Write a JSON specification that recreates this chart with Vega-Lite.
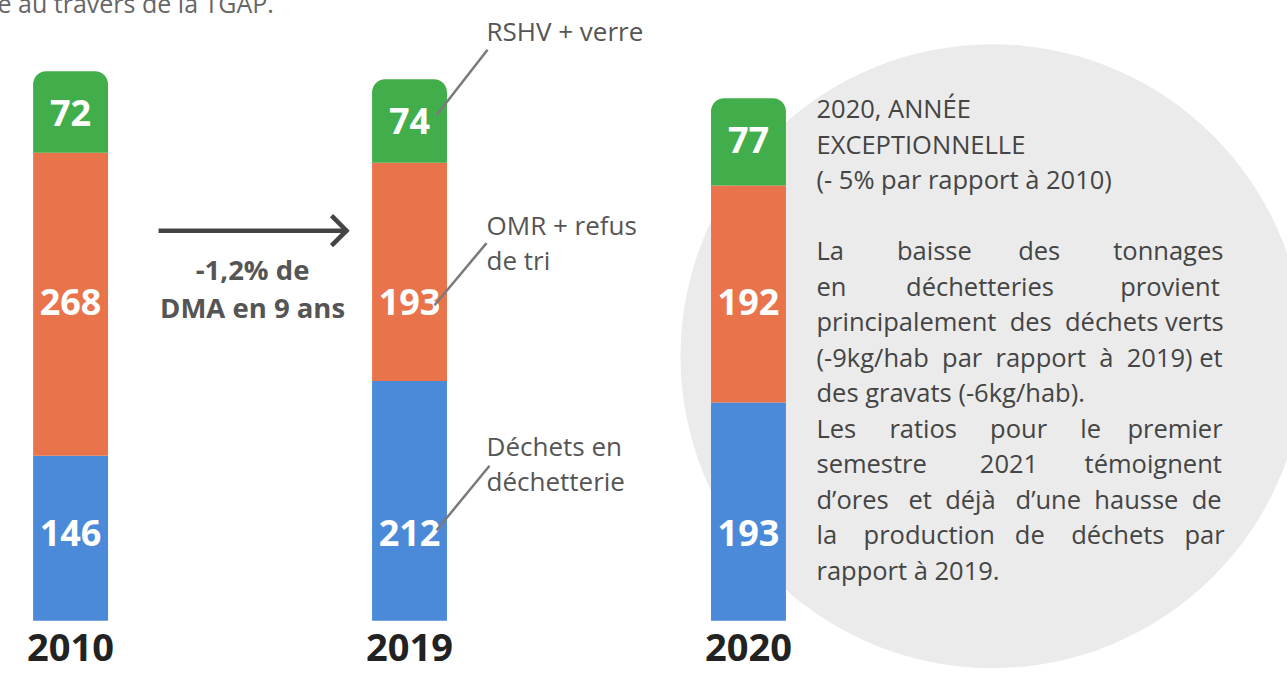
{
  "$schema": "https://vega.github.io/schema/vega-lite/v6.json",
  "width": 1287,
  "height": 675,
  "autosize": "none",
  "padding": 0,
  "background": "white",
  "config": {"view": {"stroke": null}, "axis": {"disable": true}, "font": "Open Sans"},
  "datasets": {
    "dma": [
      {"year": "2010", "type": "Déchets en déchetterie", "value": 146},
      {"year": "2010", "type": "OMR + refus de tri", "value": 268},
      {"year": "2010", "type": "RSHV + verre", "value": 72},
      {"year": "2019", "type": "Déchets en déchetterie", "value": 212},
      {"year": "2019", "type": "OMR + refus de tri", "value": 193},
      {"year": "2019", "type": "RSHV + verre", "value": 74},
      {"year": "2020", "type": "Déchets en déchetterie", "value": 193},
      {"year": "2020", "type": "OMR + refus de tri", "value": 192},
      {"year": "2020", "type": "RSHV + verre", "value": 77}
    ]
  },
  "layer": [
    {
      "data": {"values": [{}]},
      "mark": {"type": "point", "shape": "circle", "filled": true, "color": "#ebebeb", "opacity": 1, "size": 389400, "xOffset": 244},
      "encoding": {
        "x": {"datum": "2020", "type": "ordinal", "scale": {"domain": ["2010", "2019", "2020"], "paddingInner": 0.779, "paddingOuter": 0.788, "align": 0.062}},
        "y": {"datum": 234, "type": "quantitative", "scale": {"domain": [-48, 549], "nice": false, "zero": false}}
      }
    },
    {
      "data": {"name": "dma"},
      "transform": [
        {"stack": "value", "groupby": ["year"], "sort": [{"field": "type", "order": "ascending"}], "as": ["v0", "v1"]},
        {"filter": "datum.type !== 'RSHV + verre'"}
      ],
      "mark": {"type": "bar"},
      "encoding": {
        "x": {"field": "year", "type": "ordinal"},
        "y": {"field": "v1", "type": "quantitative"},
        "y2": {"field": "v0"},
        "color": {"field": "type", "type": "nominal", "legend": null, "scale": {"domain": ["Déchets en déchetterie", "OMR + refus de tri", "RSHV + verre"], "range": ["#4a8ad9", "#e9744b", "#41ae4b"]}}
      }
    },
    {
      "data": {"name": "dma"},
      "transform": [
        {"stack": "value", "groupby": ["year"], "sort": [{"field": "type", "order": "ascending"}], "as": ["v0", "v1"]},
        {"filter": "datum.type === 'RSHV + verre'"}
      ],
      "mark": {"type": "bar", "cornerRadiusTopLeft": 13, "cornerRadiusTopRight": 13},
      "encoding": {
        "x": {"field": "year", "type": "ordinal"},
        "y": {"field": "v1", "type": "quantitative"},
        "y2": {"field": "v0"},
        "color": {"field": "type", "type": "nominal", "legend": null}
      }
    },
    {
      "data": {"name": "dma"},
      "transform": [
        {"stack": "value", "groupby": ["year"], "sort": [{"field": "type", "order": "ascending"}], "as": ["v0", "v1"]},
        {"filter": "datum.type === 'RSHV + verre'"}
      ],
      "mark": {"type": "text", "color": "white", "fontWeight": "bold", "fontSize": 36, "baseline": "middle", "dy": 44},
      "encoding": {
        "x": {"field": "year", "type": "ordinal"},
        "y": {"field": "v1", "type": "quantitative"},
        "text": {"field": "value", "type": "quantitative"}
      }
    },
    {
      "data": {"name": "dma"},
      "transform": [{"filter": "datum.type === 'OMR + refus de tri'"}],
      "mark": {"type": "text", "color": "white", "fontWeight": "bold", "fontSize": 36, "baseline": "middle"},
      "encoding": {
        "x": {"field": "year", "type": "ordinal"},
        "y": {"datum": 280, "type": "quantitative"},
        "text": {"field": "value", "type": "quantitative"}
      }
    },
    {
      "data": {"name": "dma"},
      "transform": [{"filter": "datum.type === 'Déchets en déchetterie'"}],
      "mark": {"type": "text", "color": "white", "fontWeight": "bold", "fontSize": 36, "baseline": "middle"},
      "encoding": {
        "x": {"field": "year", "type": "ordinal"},
        "y": {"datum": 76, "type": "quantitative"},
        "text": {"field": "value", "type": "quantitative"}
      }
    },
    {
      "data": {"name": "dma"},
      "transform": [{"filter": "datum.type === 'RSHV + verre'"}],
      "mark": {"type": "text", "color": "#222222", "fontWeight": "bold", "fontSize": 38, "baseline": "middle"},
      "encoding": {
        "x": {"field": "year", "type": "ordinal"},
        "y": {"datum": -26, "type": "quantitative"},
        "text": {"field": "year", "type": "nominal"}
      }
    },
    {
      "data": {"values": [{}]},
      "mark": {"type": "rule", "color": "#7a7a7a", "strokeWidth": 2.5, "xOffset": 27, "x2Offset": 78},
      "encoding": {
        "x": {"datum": "2019", "type": "ordinal"},
        "x2": {"datum": "2019"},
        "y": {"datum": 447, "type": "quantitative"},
        "y2": {"datum": 505}
      }
    },
    {
      "data": {"values": [{}]},
      "mark": {"type": "rule", "color": "#7a7a7a", "strokeWidth": 2.5, "xOffset": 25, "x2Offset": 77},
      "encoding": {
        "x": {"datum": "2019", "type": "ordinal"},
        "x2": {"datum": "2019"},
        "y": {"datum": 279, "type": "quantitative"},
        "y2": {"datum": 334}
      }
    },
    {
      "data": {"values": [{}]},
      "mark": {"type": "rule", "color": "#7a7a7a", "strokeWidth": 2.5, "xOffset": 27, "x2Offset": 80},
      "encoding": {
        "x": {"datum": "2019", "type": "ordinal"},
        "x2": {"datum": "2019"},
        "y": {"datum": 80, "type": "quantitative"},
        "y2": {"datum": 137}
      }
    },
    {
      "data": {"values": [{}]},
      "mark": {"type": "text", "text": "RSHV + verre", "color": "#555555", "fontSize": 26, "align": "left", "baseline": "middle", "dx": 77},
      "encoding": {
        "x": {"datum": "2019", "type": "ordinal"},
        "y": {"datum": 520, "type": "quantitative"}
      }
    },
    {
      "data": {"values": [{}]},
      "mark": {"type": "text", "text": ["OMR + refus", "de tri"], "lineHeight": 35, "color": "#555555", "fontSize": 26, "align": "left", "baseline": "middle", "dx": 77},
      "encoding": {
        "x": {"datum": "2019", "type": "ordinal"},
        "y": {"datum": 348, "type": "quantitative"}
      }
    },
    {
      "data": {"values": [{}]},
      "mark": {"type": "text", "text": ["Déchets en", "déchetterie"], "lineHeight": 35, "color": "#555555", "fontSize": 26, "align": "left", "baseline": "middle", "dx": 77},
      "encoding": {
        "x": {"datum": "2019", "type": "ordinal"},
        "y": {"datum": 153, "type": "quantitative"}
      }
    },
    {
      "data": {"values": [{}]},
      "mark": {"type": "rule", "color": "#444444", "strokeWidth": 4.5, "xOffset": 88, "x2Offset": -62},
      "encoding": {
        "x": {"datum": "2010", "type": "ordinal"},
        "x2": {"datum": "2019"},
        "y": {"datum": 345, "type": "quantitative"}
      }
    },
    {
      "data": {"values": [{}]},
      "mark": {"type": "point", "shape": "M-1,-1L0,0L-1,1", "filled": false, "stroke": "#444444", "strokeWidth": 4.5, "opacity": 1, "size": 900, "xOffset": -63},
      "encoding": {
        "x": {"datum": "2019", "type": "ordinal"},
        "y": {"datum": 345, "type": "quantitative"}
      }
    },
    {
      "data": {"values": [{}]},
      "mark": {"type": "text", "text": ["-1,2% de", "DMA en 9 ans"], "lineHeight": 38, "color": "#555555", "fontSize": 27.5, "fontWeight": "bold", "align": "center", "baseline": "middle", "dx": 182},
      "encoding": {
        "x": {"datum": "2010", "type": "ordinal"},
        "y": {"datum": 308, "type": "quantitative"}
      }
    },
    {
      "data": {"values": [{}]},
      "mark": {"type": "text", "text": ["2020, ANNÉE", "EXCEPTIONNELLE", "(- 5% par rapport à 2010)"], "lineHeight": 35.5, "color": "#444444", "fontSize": 25.5, "align": "left", "baseline": "middle", "dx": 68},
      "encoding": {
        "x": {"datum": "2020", "type": "ordinal"},
        "y": {"datum": 451.7, "type": "quantitative"}
      }
    },
    {
      "data": {"values": [{}]},
      "mark": {"type": "text", "text": ["La\u00a0\u00a0\u00a0\u00a0\u00a0\u00a0\u00a0\u00a0baisse\u00a0\u00a0\u00a0\u00a0\u00a0\u00a0\u00a0des\u00a0\u00a0\u00a0\u00a0\u00a0\u00a0\u00a0\u00a0tonnages", "en\u00a0\u00a0\u00a0\u00a0\u00a0\u00a0\u00a0\u00a0\u00a0déchetteries\u00a0\u00a0\u00a0\u00a0\u00a0\u00a0\u00a0\u00a0\u00a0\u00a0provient", "principalement\u00a0\u00a0des\u00a0\u00a0déchets\u00a0verts", "(-9kg/hab\u00a0\u00a0par\u00a0\u00a0rapport\u00a0\u00a0à\u00a0\u00a02019)\u00a0et", "des gravats (-6kg/hab).", "Les\u00a0\u00a0\u00a0\u00a0\u00a0ratios\u00a0\u00a0\u00a0\u00a0\u00a0pour\u00a0\u00a0\u00a0\u00a0\u00a0le\u00a0\u00a0\u00a0\u00a0premier", "semestre\u00a0\u00a0\u00a0\u00a0\u00a0\u00a0\u00a0\u00a02021\u00a0\u00a0\u00a0\u00a0\u00a0\u00a0\u00a0témoignent", "d’ores\u00a0\u00a0\u00a0et\u00a0\u00a0déjà\u00a0\u00a0\u00a0d’une\u00a0\u00a0hausse\u00a0\u00a0de", "la\u00a0\u00a0\u00a0\u00a0production\u00a0\u00a0\u00a0de\u00a0\u00a0\u00a0\u00a0déchets\u00a0\u00a0\u00a0par", "rapport à 2019."], "lineHeight": 35.5, "color": "#444444", "fontSize": 25.5, "align": "left", "baseline": "middle", "dx": 68},
      "encoding": {
        "x": {"datum": "2020", "type": "ordinal"},
        "y": {"datum": 326.1, "type": "quantitative"}
      }
    },
    {
      "data": {"values": [{}]},
      "mark": {"type": "text", "text": "e au travers de la TGAP.", "color": "#666666", "fontSize": 25, "align": "left", "baseline": "alphabetic", "dx": -73},
      "encoding": {
        "x": {"datum": "2010", "type": "ordinal"},
        "y": {"datum": 537.5, "type": "quantitative"}
      }
    }
  ]
}
